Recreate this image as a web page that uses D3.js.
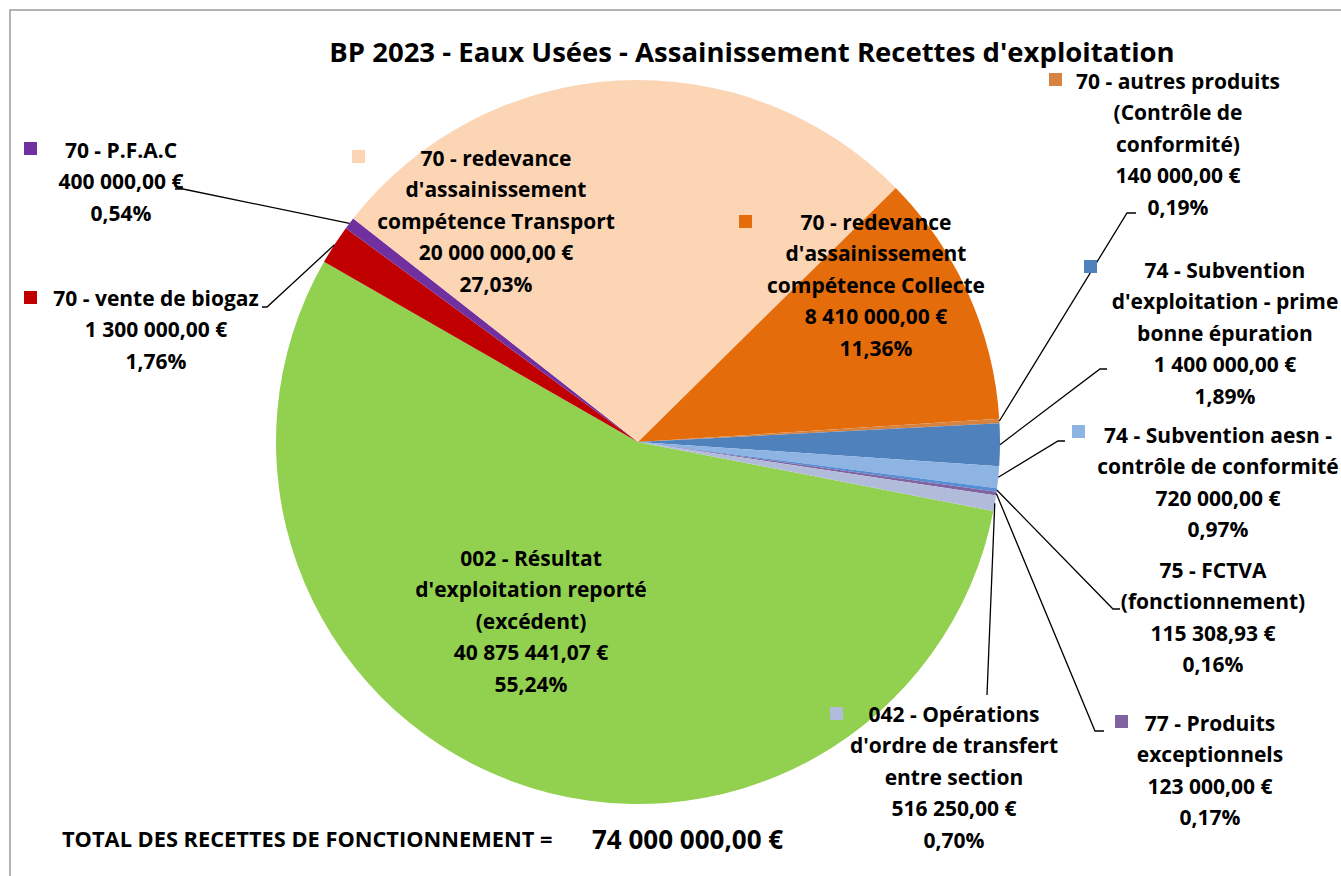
<!DOCTYPE html>
<html>
<head>
<meta charset="utf-8">
<script src="https://cdn.jsdelivr.net/npm/d3@7"></script>
<style>
    body { margin: 0; background: #fff; }
    svg { display: block; }
    text { font-family: "Open Sans", Lato, sans-serif; font-weight: bold; fill: #000; }
</style>
</head>
<body>
<svg id="chart" width="1341" height="876"></svg>
<script>
// Slices, clockwise from the first slice
const categories = [
    "002", "70 - vente de biogaz", "70 - P.F.A.C", "70 - Transport", "70 - Collecte",
    "70 - autres produits", "74 - prime", "74 - aesn", "75 - FCTVA", "77", "042"
];
const values = [40875441.07, 1300000, 400000, 20000000, 8410000, 140000, 1400000, 720000, 115308.93, 123000, 516250];
const labelLines = [
    ["002 - Résultat", "d'exploitation reporté", "(excédent)"],
    ["70 - vente de biogaz"],
    ["70 - P.F.A.C"],
    ["70 - redevance", "d'assainissement", "compétence Transport"],
    ["70 - redevance", "d'assainissement", "compétence Collecte"],
    ["70 - autres produits", "(Contrôle de", "conformité)"],
    ["74 - Subvention", "d'exploitation - prime", "bonne épuration"],
    ["74 - Subvention aesn -", "contrôle de conformité"],
    ["75 - FCTVA", "(fonctionnement)"],
    ["77 - Produits", "exceptionnels"],
    ["042 - Opérations", "d'ordre de transfert", "entre section"]
];
const colors = ["#92D050", "#C00000", "#7030A0", "#FCD5B5", "#E46C0A", "#D7833F",
    "#4F81BD", "#8DB4E2", "#558ED5", "#8064A2", "#B1BBDA"];
const showKey = [false, true, true, true, true, true, true, true, false, true, true];

const titleText = "BP 2023 - Eaux Usées - Assainissement Recettes d'exploitation";
const totalText = "TOTAL DES RECETTES DE FONCTIONNEMENT =";

// label placement: center x, first line y, key square corner, leader elbow and end
const labelAt = [[531, 558], [156, 298], [121, 150], [496, 158], [876, 222], [1178, 81],
    [1225, 270], [1218, 435], [1213, 570], [1210, 723], [954, 714]];
const keyAt = [null, [24, 291], [24, 142], [352, 150], [739, 215], [1049, 73],
    [1084, 260], [1072, 425], null, [1115, 715], [830, 707]];
const leaderTo = [null, [[267, 307], [262, 307]], [[183, 189], [175, 189]], null, null,
    [[1127, 213], [1136, 213]], [[1100, 369], [1107, 369]], [[1058, 441], [1065, 441]],
    [[1113, 609], [1120, 609]], [[1095, 731], [1104, 731]], [[987, 695]]];

const width = 1341, height = 876;
const cx = 638, cy = 442, radius = 362;
const firstAngle = 101 * Math.PI / 180;
const lineStep = 31.5;

const fr = d3.formatLocale({ decimal: ",", thousands: "\u00a0", grouping: [3], currency: ["", " €"] });
const euro = fr.format("$,.2f");
const pct = fr.format(".2%");
const total = d3.sum(values);

const svg = d3.select('#chart');

// chart area frame
svg.append('rect')
    .attr('x', 10).attr('y', 10)
    .attr('width', 1420).attr('height', 960)
    .attr('fill', '#fff')
    .attr('stroke', '#8c8c8c')
    .attr('stroke-width', 1.3);

svg.append('text')
    .attr('x', 752).attr('y', 62)
    .attr('text-anchor', 'middle')
    .style('font-size', '27.5px')
    .text(titleText);

const data = values.map((v, i) => ({ name: categories[i], value: v, i: i }));

const pie = d3.pie()
    .sort(null)
    .value(d => d.value)
    .startAngle(firstAngle)
    .endAngle(firstAngle + 2 * Math.PI);

const arcs = pie(data);
const arc = d3.arc().innerRadius(0).outerRadius(radius);
const rim = d3.arc().innerRadius(radius).outerRadius(radius);

const g = svg.append('g').attr('transform', `translate(${cx},${cy})`);

g.selectAll('path.slice')
    .data(arcs)
    .enter()
    .append('path')
    .attr('class', 'slice')
    .attr('d', arc)
    .attr('fill', d => colors[d.data.i]);

// leader lines from the rim to the outside labels
const line = d3.line();
svg.selectAll('path.leader')
    .data(arcs.filter(d => leaderTo[d.data.i]))
    .enter()
    .append('path')
    .attr('class', 'leader')
    .attr('d', d => {
        const p = rim.centroid(d);
        return line([[p[0] + cx, p[1] + cy], ...leaderTo[d.data.i]]);
    })
    .attr('fill', 'none')
    .attr('stroke', '#000')
    .attr('stroke-width', 1.3);

// key squares
svg.selectAll('rect.key')
    .data(data.filter(d => showKey[d.i]))
    .enter()
    .append('rect')
    .attr('class', 'key')
    .attr('x', d => keyAt[d.i][0])
    .attr('y', d => keyAt[d.i][1])
    .attr('width', 13).attr('height', 13)
    .attr('fill', d => colors[d.i]);

// data labels
const label = svg.selectAll('text.lbl')
    .data(data)
    .enter()
    .append('text')
    .attr('class', 'lbl')
    .attr('text-anchor', 'middle')
    .style('font-size', '21px');

label.selectAll('tspan')
    .data(d => labelLines[d.i].concat([euro(d.value), pct(d.value / total)])
        .map((t, k) => ({ t: t, k: k, i: d.i })))
    .enter()
    .append('tspan')
    .attr('x', d => labelAt[d.i][0])
    .attr('y', d => labelAt[d.i][1] + 7.5 + d.k * lineStep)
    .text(d => d.t);

svg.append('text')
    .attr('x', 62).attr('y', 847)
    .style('font-size', '21.8px')
    .text(totalText);

svg.append('text')
    .attr('x', 592).attr('y', 849)
    .style('font-size', '26px')
    .text(euro(total));
</script>
</body>
</html>
